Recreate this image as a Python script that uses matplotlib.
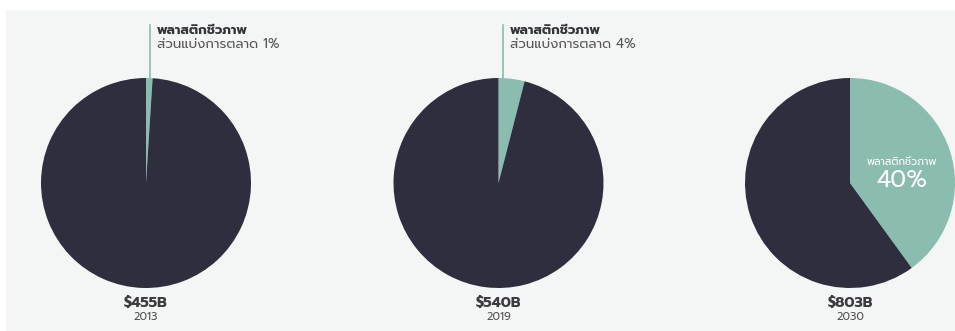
import matplotlib
matplotlib.use("Agg")
import matplotlib.pyplot as plt
from matplotlib import font_manager
from matplotlib.patches import Rectangle

# bioplastics share of the plastics market
years = ["2013", "2019", "2030"]
market = ["$455B", "$540B", "$803B"]
share = [1, 4, 40]
label_th = "พลาสติกชีวภาพ"
share_th = "ส่วนแบ่งการตลาด"

dark = "#2f2e3e"
teal = "#8abcb0"
panel = "#f4f6f5"

# pick a Thai font that is installed
have = set(f.name for f in font_manager.fontManager.ttflist)
thai = "DejaVu Sans"
for name in ["Prompt", "Kanit", "Mitr", "Noto Sans Thai", "Athiti"]:
    if name in have:
        thai = name
        break
plt.rcParams['font.family'] = [thai, "DejaVu Sans"]

W, H = 955, 331
fig = plt.figure(figsize=(W / 100, H / 100), dpi=100, facecolor="white")
fig.patches.append(Rectangle((6 / W, 0), 1, (H - 10) / H, transform=fig.transFigure,
                             facecolor=panel, edgecolor="none", zorder=-5))

R = 105
centers = [146, 498.5, 850]
cy = 183

for i in range(3):
    ax = fig.add_axes([(centers[i] - R) / W, (H - cy - R) / H, 2 * R / W, 2 * R / H])
    ax.set_facecolor("none")
    ax.pie([share[i], 100 - share[i]], colors=[teal, dark], startangle=90,
           counterclock=False, radius=1, wedgeprops=dict(linewidth=0))
    ax.set_xlim(-1, 1)
    ax.set_ylim(-1, 1)
    ax.set_aspect("equal")
    ax.axis("off")

    ax.text(0, -1.181, market[i], ha="center", va="baseline", fontsize=10.5,
            fontweight="bold", color="#3b3b40", clip_on=False)
    ax.text(0, -1.305, years[i], ha="center", va="baseline", fontsize=8,
            color="#555555", clip_on=False)

    if share[i] < 10:
        # small slice: label sits above the pie with a leader line
        ax.plot([0.04, 0.04], [1.0, 1.505], color=teal, lw=1.2, clip_on=False)
        ax.text(0.107, 1.419, label_th, ha="left", va="baseline", fontsize=9.5,
                fontweight="bold", color="#333338", clip_on=False)
        ax.text(0.107, 1.286, "%s %d%%" % (share_th, share[i]), ha="left",
                va="baseline", fontsize=9.5, color="#555555", clip_on=False)
    else:
        ax.text(0.495, 0.171, label_th, ha="center", va="baseline", fontsize=7.5,
                color="white")
        ax.text(0.495, -0.04, "%d%%" % share[i], ha="center", va="baseline",
                fontsize=17, color="white")

fig.savefig("out.png", dpi=100, facecolor="white")
